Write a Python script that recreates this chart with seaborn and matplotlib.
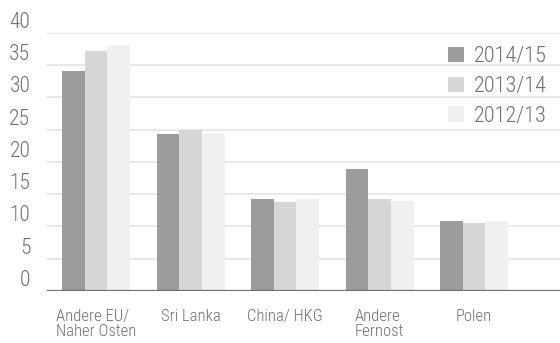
import pandas as pd
import matplotlib.pyplot as plt
import seaborn as sns

# values
regions = ["Andere EU/\nNaher Osten", "Sri Lanka", "China/ HKG", "Andere\nFernost", "Polen"]
years = ["2014/15", "2013/14", "2012/13"]
v_1415 = [34.1, 24.3, 14.3, 18.9, 10.9]
v_1314 = [37.2, 25.0, 13.8, 14.3, 10.5]
v_1213 = [38.1, 24.3, 14.3, 14.0, 10.9]
colors = ["#9c9c9c", "#d6d6d6", "#f0f0f0"]

df = pd.DataFrame({
    "Region": regions * 3,
    "Jahr": [years[0]] * 5 + [years[1]] * 5 + [years[2]] * 5,
    "Wert": v_1415 + v_1314 + v_1213,
})

sns.set_style("white")
plt.rcParams["font.family"] = ["Roboto Condensed", "IBM Plex Sans Condensed", "DejaVu Sans"]
plt.rcParams["font.weight"] = "light"
txt = "#6f6f6f"

fig = plt.figure(figsize=(5.6, 3.43), dpi=100)
ax = fig.add_axes([0.084, 0.152, 0.916, 0.752])

sns.barplot(data=df, x="Region", y="Wert", hue="Jahr", order=regions,
            hue_order=years, palette=colors, width=0.72, saturation=1,
            linewidth=0, ax=ax, zorder=2)

ax.set_ylim(0, 40)
ax.set_xlim(-0.52, 4.91)
ax.set_yticks(range(0, 41, 5))
ax.yaxis.grid(True, color="#e9e9e9", linewidth=1.5, zorder=0)
ax.set_axisbelow(True)
ax.axhline(0, color="#6e6e6e", linewidth=2.3, zorder=3)
for s in ax.spines.values():
    s.set_visible(False)
ax.set_xlabel("")
ax.set_ylabel("")
ax.tick_params(axis="y", length=0, pad=12, labelsize=15.5, labelcolor=txt)
ax.tick_params(axis="x", length=0, pad=13, labelsize=12, labelcolor=txt)
for lab in ax.get_yticklabels():
    lab.set_verticalalignment("bottom")
for lab in ax.get_xticklabels():
    lab.set_multialignment("left")
    lab.set_linespacing(1.0)

leg = ax.legend(loc="upper right", bbox_to_anchor=(1.0, 1.0), frameon=False,
                fontsize=16, handlelength=0.7, handleheight=0.7,
                handletextpad=0.45, labelspacing=0.4, borderaxespad=0.2)
for t in leg.get_texts():
    t.set_color(txt)

fig.savefig("out.png", dpi=100)
